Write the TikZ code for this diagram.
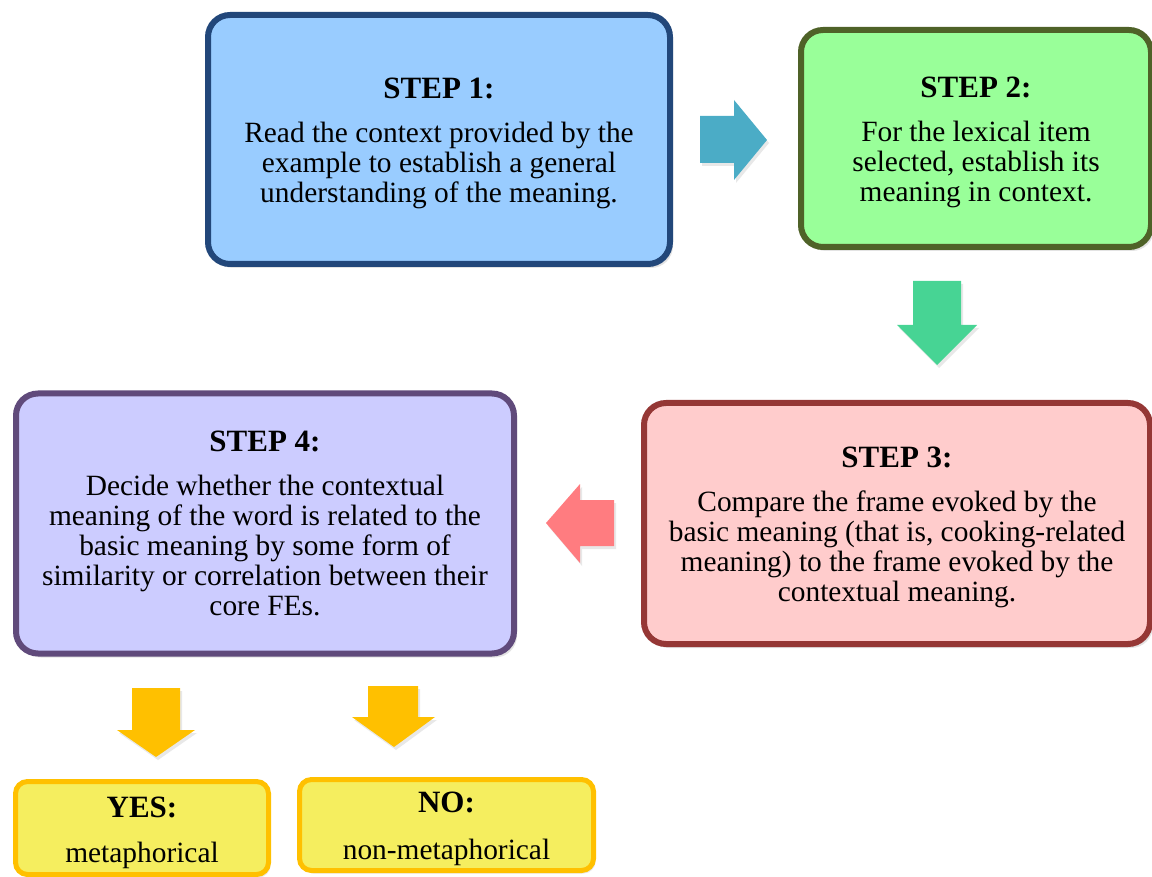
\documentclass[tikz,border=0pt]{standalone}
\usepackage{fontspec}
\setmainfont{Liberation Serif}
\usetikzlibrary{shadows}
\definecolor{blueFill}{HTML}{99CCFF}
\definecolor{blueLine}{HTML}{22477A}
\definecolor{greenFill}{HTML}{99FF99}
\definecolor{greenLine}{HTML}{4F6228}
\definecolor{redFill}{HTML}{FFCCCC}
\definecolor{redLine}{HTML}{953735}
\definecolor{violetFill}{HTML}{CCCCFF}
\definecolor{violetLine}{HTML}{604A7B}
\definecolor{yellowFill}{HTML}{F5EE5F}
\definecolor{amber}{HTML}{FFC000}
\definecolor{tealArrow}{HTML}{4BACC6}
\definecolor{greenArrow}{HTML}{47D494}
\definecolor{salmonArrow}{HTML}{FF7C80}
\tikzset{
  stepbox/.style={draw, rectangle, rounded corners=22pt, line width=6pt,
    inner sep=0pt,
    drop shadow={opacity=0.22, shadow xshift=3pt, shadow yshift=-4pt}},
  answerbox/.style={draw=amber, fill=yellowFill, rectangle, rounded corners=12pt,
    line width=5pt, inner sep=0pt,
    drop shadow={opacity=0.18, shadow xshift=2pt, shadow yshift=-3pt}},
  boxtext/.style={align=center, inner sep=0pt,
    font=\fontsize{29.4}{30}\selectfont},
  blockarrow/.style={draw=none,
    drop shadow={opacity=0.18, shadow xshift=2pt, shadow yshift=-3pt}},
}
\newcommand{\stephead}[1]{{\fontsize{31}{30}\selectfont\bfseries #1}\\[14pt]}
\begin{document}
\begin{tikzpicture}[x=1pt,y=-1pt]
\useasboundingbox (0,0) rectangle (1152,877);

% step boxes
\node[stepbox, fill=blueFill, draw=blueLine, minimum width=462pt, minimum height=249pt]
  (s1) at (439,139.5) {};
\node[boxtext] (s1text) at ([yshift=-3.5pt]s1.center)
  {\stephead{STEP 1:}Read the context provided by the\\example to establish a general\\understanding of the meaning.};

\node[stepbox, fill=greenFill, draw=greenLine, minimum width=350pt, minimum height=217pt]
  (s2) at (976,138.5) {};
\node[boxtext] (s2text) at ([yshift=-3.5pt]s2.center)
  {\stephead{STEP 2:}For the lexical item\\selected, establish its\\meaning in context.};

\node[stepbox, fill=redFill, draw=redLine, minimum width=506pt, minimum height=241pt]
  (s3) at (897,523.5) {};
\node[boxtext] (s3text) at ([yshift=-3.5pt]s3.center)
  {\stephead{STEP 3:}Compare the frame evoked by the\\basic meaning (that is, cooking-related\\meaning) to the frame evoked by the\\contextual meaning.};

\node[stepbox, fill=violetFill, draw=violetLine, minimum width=498pt, minimum height=260pt]
  (s4) at (265,523.5) {};
\node[boxtext] (s4text) at (s4.center)
  {\stephead{STEP 4:}Decide whether the contextual\\meaning of the word is related to the\\basic meaning by some form of\\similarity or correlation between their\\core FEs.};

% outcome boxes
\node[answerbox, minimum width=253pt, minimum height=93pt] (yes) at (142,828) {};
\node[boxtext] (yestext) at ([yshift=-5pt]yes.center)
  {{\fontsize{31}{30}\selectfont\bfseries YES:}\\[15pt]metaphorical};
\node[answerbox, minimum width=294pt, minimum height=91pt] (no) at (446.5,825) {};
\node[boxtext] (notext) at ([yshift=-4pt]no.center)
  {{\fontsize{31}{30}\selectfont\bfseries NO:}\\[17pt]non-metaphorical};

% block arrows between the steps
\fill[blockarrow, tealArrow] (700,116) -- (734,116) -- (734,100) -- (767,140)
  -- (734,180) -- (734,163) -- (700,163) -- cycle;
\fill[blockarrow, greenArrow] (913,281) -- (961,281) -- (961,325) -- (977,325)
  -- (937,365) -- (897,325) -- (913,325) -- cycle;
\fill[blockarrow, salmonArrow] (614,500) -- (580,500) -- (580,484) -- (546,523)
  -- (580,563) -- (580,546) -- (614,546) -- cycle;
\fill[blockarrow, amber] (132,688) -- (180,688) -- (180,730) -- (195,730)
  -- (156,757) -- (117,730) -- (132,730) -- cycle;
\fill[blockarrow, amber] (368,686) -- (418,686) -- (418,717) -- (435,717)
  -- (394,747) -- (352,717) -- (368,717) -- cycle;
\end{tikzpicture}
\end{document}
